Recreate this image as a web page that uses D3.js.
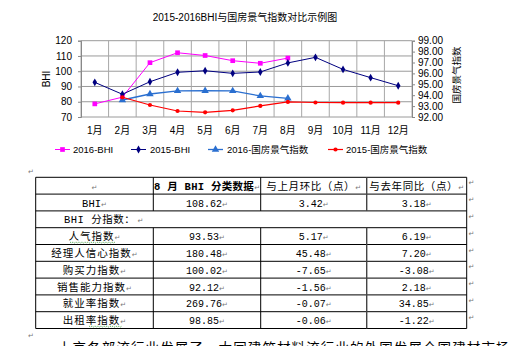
<!DOCTYPE html>
<html><head><meta charset="utf-8">
<script src="https://cdn.jsdelivr.net/npm/d3@7/dist/d3.min.js"></script>
<style>
body{margin:0;background:#fff;overflow:hidden;}
svg{display:block;}
</style></head><body>
<svg id="c" width="512" height="346"></svg>
<script>
// ---------- chart data ----------
const months = ["1月","2月","3月","4月","5月","6月","7月","8月","9月","10月","11月","12月"];
const bhi2016 = [78.6, 83.0, 105.6, 112.1, 110.3, 106.9, 105.2, 108.62, null, null, null, null];
const bhi2015 = [92.7, 84.9, 93.1, 99.3, 100.3, 98.6, 99.5, 105.44, 109.1, 101.2, 95.8, 90.5];
const gf2016  = [null, 93.56, 94.11, 94.39, 94.41, 94.39, 93.93, 93.71, null, null, null, null];
const gf2015  = [null, 93.81, 93.10, 92.55, 92.43, 92.61, 93.02, 93.38, 93.33, 93.31, 93.31, 93.31];
const leftTicks  = [70, 80, 90, 100, 110, 120];
const rightTicks = [92, 93, 94, 95, 96, 97, 98, 99];
const seriesNames = ["2016-BHI", "2015-BHI", "2016-国房景气指数", "2015-国房景气指数"];
const chartTitle = "2015-2016BHI与国房景气指数对比示例图";

// ---------- table data ----------
const tableHeader = ["", "8 月 BHI 分类数据", "与上月环比（点）", "与去年同比（点）"];
const indexNames  = ["BHI", "人气指数", "经理人信心指数", "购买力指数", "销售能力指数", "就业率指数", "出租率指数"];
const augValues   = ["108.62", "93.53", "180.48", "100.02", "92.12", "269.76", "98.85"];
const momChange   = ["3.42", "5.17", "45.48", "-7.65", "-1.56", "-0.07", "-0.06"];
const yoyChange   = ["3.18", "6.19", "7.20", "-3.08", "2.18", "34.85", "-1.22"];
const subHeader   = "BHI 分指数：";
const bodyText    = "上京各部流行业发展了，大同建筑材料流行业的外国发展全国建材市场景气与";

const svg = d3.select("#c");
const SANS = "'Liberation Sans', Arial, 'Noto Sans CJK SC', sans-serif";
const CJK = "'Noto Sans CJK SC', sans-serif";
const MONO = "'Liberation Mono', 'Noto Sans CJK SC', monospace";

// ---------- chart ----------
const L = 81, R = 412, T = 40.7, B = 117;
const x = d3.scaleBand().domain(months).range([L, R]).padding(0);
const yL = d3.scaleLinear().domain([70, 120]).range([B, T]);
const yR = d3.scaleLinear().domain([92, 99]).range([B, T]);

// gridlines
const g = svg.append("g");
g.selectAll("line.h").data(leftTicks).join("line")
  .attr("x1", L).attr("x2", R).attr("y1", d => yL(d)).attr("y2", d => yL(d))
  .attr("stroke", "#9a9a9a").attr("stroke-width", 1);
const vb = months.map(m => x(m)).concat([R]);
g.selectAll("line.v").data(vb).join("line")
  .attr("x1", d => d).attr("x2", d => d).attr("y1", T).attr("y2", B)
  .attr("stroke", "#a8a8a8").attr("stroke-width", 1);

// left axis
const axL = svg.append("g").attr("transform", `translate(${L},0)`)
  .call(d3.axisLeft(yL).tickValues(leftTicks).tickSize(3).tickPadding(6));
axL.select(".domain").attr("stroke", "#888");
axL.selectAll(".tick line").attr("stroke", "#888");
axL.selectAll("text").attr("font-family", SANS).attr("font-size", "10px").attr("fill", "#000");

// right axis
const axR = svg.append("g").attr("transform", `translate(${R},0)`)
  .call(d3.axisRight(yR).tickValues(rightTicks).tickSize(3).tickPadding(3).tickFormat(d3.format(".2f")));
axR.select(".domain").attr("stroke", "#888");
axR.selectAll(".tick line").attr("stroke", "#888");
axR.selectAll("text").attr("font-family", SANS).attr("font-size", "10px").attr("fill", "#000");

// bottom axis labels
const axB = svg.append("g").attr("transform", `translate(0,${B})`)
  .call(d3.axisBottom(x).tickSize(0).tickPadding(10));
axB.select(".domain").remove();
axB.selectAll("text").attr("font-family", SANS).attr("font-size", "10px").attr("fill", "#000");

// titles
svg.append("text").attr("x", 245).attr("y", 21).attr("text-anchor", "middle")
  .attr("font-family", SANS).attr("font-size", "10px").text(chartTitle);
svg.append("text").attr("transform", "translate(50,79) rotate(-90)").attr("text-anchor", "middle")
  .attr("font-family", SANS).attr("font-size", "10px").text("BHI");
svg.append("text").attr("transform", "translate(460,75) rotate(-90)").attr("text-anchor", "middle")
  .attr("font-family", SANS).attr("font-size", "9.5px").text("国房景气指数");

const series = [
  {name: seriesNames[0], data: bhi2016, y: yL, color: "#FF00FF", sym: d3.symbolSquare, size: 22, w: 1},
  {name: seriesNames[1], data: bhi2015, y: yL, color: "#000080", sym: d3.symbolDiamond, size: 18, w: 1},
  {name: seriesNames[2], data: gf2016, y: yR, color: "#2A6FD0", sym: d3.symbolTriangle, size: 24, w: 1.3},
  {name: seriesNames[3], data: gf2015, y: yR, color: "#FF0000", sym: d3.symbolCircle, size: 14, w: 1.2}
];
const cx = m => x(m) + x.bandwidth() / 2;
series.forEach(s => {
  const pts = months.map((m, i) => ({m, v: s.data[i]})).filter(p => p.v != null);
  const line = d3.line().x(p => cx(p.m)).y(p => s.y(p.v));
  svg.append("path").attr("d", line(pts)).attr("fill", "none")
    .attr("stroke", s.color).attr("stroke-width", s.w);
  svg.append("g").selectAll("path").data(pts).join("path")
    .attr("transform", p => `translate(${cx(p.m)},${s.y(p.v)})`)
    .attr("d", d3.symbol().type(s.sym).size(s.size)).attr("fill", s.color);
});

// legend
const legendPos = [{x0: 55, tx: 73}, {x0: 131, tx: 150}, {x0: 208, tx: 227}, {x0: 328, tx: 346}];
const ly = 149.5;
series.forEach((s, i) => {
  const p = legendPos[i];
  svg.append("line").attr("x1", p.x0).attr("x2", p.x0 + 15).attr("y1", ly).attr("y2", ly)
    .attr("stroke", s.color).attr("stroke-width", s.w);
  svg.append("path").attr("transform", `translate(${p.x0 + 7.5},${ly})`)
    .attr("d", d3.symbol().type(s.sym).size(s.size)).attr("fill", s.color);
  svg.append("text").attr("x", p.tx).attr("y", ly + 3.5).attr("font-family", SANS)
    .attr("font-size", "9.5px").text(s.name);
});

// ---------- table ----------
const colX = [35.7, 153.3, 260.7, 366.7, 466.7];
const rowH = 16.8, top0 = 177.3;
const nRows = 9;
const rowY = d3.range(nRows + 1).map(i => top0 + i * rowH);
const tg = svg.append("g");
// horizontal lines
tg.selectAll("line.h").data(rowY).join("line")
  .attr("x1", colX[0]).attr("x2", colX[4]).attr("y1", d => d).attr("y2", d => d)
  .attr("stroke", "#000").attr("stroke-width", 1);
// vertical lines
[0, 4].forEach(ci => tg.append("line").attr("x1", colX[ci]).attr("x2", colX[ci])
  .attr("y1", rowY[0]).attr("y2", rowY[nRows]).attr("stroke", "#000"));
[1, 2, 3].forEach(ci => {
  [[0, 2], [3, nRows]].forEach(([a, b]) => tg.append("line").attr("x1", colX[ci]).attr("x2", colX[ci])
    .attr("y1", rowY[a]).attr("y2", rowY[b]).attr("stroke", ci === 3 ? "#444" : "#000")
    .attr("stroke-width", ci === 3 ? 1.4 : 1));
});

function cell(txt, ci, ri, opts = {}) {
  const cxm = (colX[ci] + colX[ci + 1]) / 2;
  const t = tg.append("text")
    .attr("x", opts.left ? colX[ci] + 28 : cxm)
    .attr("y", rowY[ri] + rowH / 2 + 4)
    .attr("text-anchor", opts.left ? "start" : "middle")
    .attr("font-family", opts.mono ? MONO : CJK)
    .attr("font-size", opts.size || "10.5px")
    .attr("letter-spacing", opts.ls != null ? opts.ls : 0.8)
    .attr("font-weight", opts.bold ? "bold" : "normal");
  t.append("tspan").text(txt);
  t.append("tspan").attr("font-family", "'DejaVu Sans', sans-serif").attr("font-size", "7px")
    .attr("fill", "#777").attr("letter-spacing", 0).attr("font-weight", "normal").text("↵");
  return t;
}
// header row
tableHeader.forEach((h, ci) => cell(h, ci, 0, ci === 1 ? {mono: true, bold: true, ls: 0.3} : {ls: 0.6}));
// BHI row
cell(indexNames[0], 0, 1, {mono: true, ls: 0});
cell(augValues[0], 1, 1, {mono: true, ls: 0, size: "10px"});
cell(momChange[0], 2, 1, {mono: true, ls: 0, size: "10px"});
cell(yoyChange[0], 3, 1, {mono: true, ls: 0, size: "10px"});
// sub header
tg.append("text").attr("x", 64).attr("y", rowY[2] + rowH / 2 + 4)
  .attr("font-family", MONO).attr("font-size", "10.5px").attr("letter-spacing", 0.5)
  .call(t => { t.append("tspan").text(subHeader);
    t.append("tspan").attr("font-family", "'DejaVu Sans', sans-serif").attr("font-size", "7px")
      .attr("fill", "#777").attr("letter-spacing", 0).text(" ↵"); });
// sub index rows
for (let i = 1; i < indexNames.length; i++) {
  const ri = i + 2;
  cell(indexNames[i], 0, ri, {ls: 1});
  cell(augValues[i], 1, ri, {mono: true, ls: 0, size: "10px"});
  cell(momChange[i], 2, ri, {mono: true, ls: 0, size: "10px"});
  cell(yoyChange[i], 3, ri, {mono: true, ls: 0, size: "10px"});
}
// spelling wavy underlines
function wavy(x0, x1, y) {
  const pts = [];
  for (let xx = x0, k = 0; xx <= x1; xx += 1.5, k++) pts.push([xx, y + (k % 2 ? 1 : -0)]);
  tg.append("path").attr("d", d3.line()(pts)).attr("fill", "none")
    .attr("stroke", "#3a9a3a").attr("stroke-width", 0.8).attr("stroke-dasharray", "1.5,1");
}
wavy(70, 116, rowY[3] + 14.3);
wavy(89, 122, rowY[8] + 14.3);

// row end marks & paragraph marks
const mark = (xx, yy) => svg.append("text").attr("x", xx).attr("y", yy)
  .attr("font-family", "'DejaVu Sans', sans-serif").attr("font-size", "7px").attr("fill", "#777").text("↵");
rowY.slice(0, nRows).forEach(y => mark(468.5, y + 8));
mark(28, 174);
mark(28, 338);

// body text (clipped at bottom)
svg.append("text").attr("x", 58).attr("y", 353).attr("font-family", CJK)
  .attr("font-size", "13.5px").attr("letter-spacing", 1.1).text(bodyText);
</script>
</body></html>
